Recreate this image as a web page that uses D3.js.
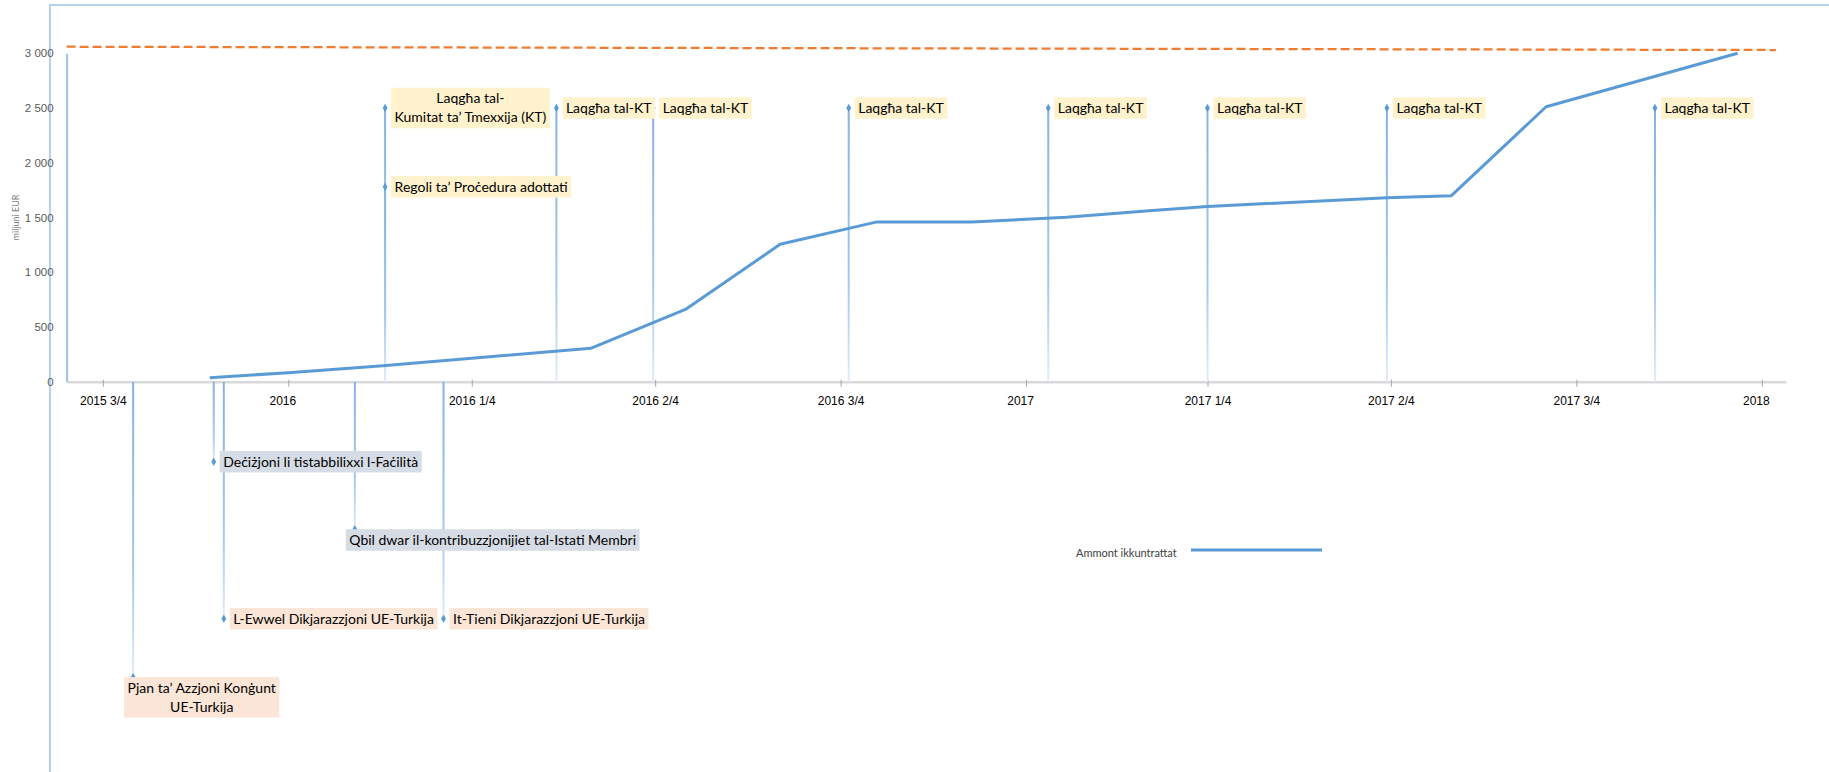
<!DOCTYPE html>
<html>
<head>
<meta charset="utf-8">
<script src="https://cdn.jsdelivr.net/npm/d3@7"></script>
<style>
  body { margin: 0; background: #fff; }
  svg { display: block; font-family: Lato, "Liberation Sans", sans-serif; }
</style>
</head>
<body>
<div id="chart"></div>
<script>
const parse = d3.timeParse("%Y-%m-%d");

// contracted amount, EUR million
const amountDates = ["2015-11-23", "2016-01-01", "2016-02-17", "2016-04-01", "2016-05-30",
                     "2016-07-16", "2016-09-01", "2016-10-19", "2016-12-05", "2017-01-21",
                     "2017-03-03", "2017-04-01", "2017-06-29", "2017-07-31", "2017-09-16", "2017-12-20"];
const amountValues = [37, 82, 146, 214, 305, 660, 1255, 1460, 1460, 1502, 1562, 1601, 1680, 1699, 2512, 3000];

// dashed ceiling line
const capDates = ["2015-09-13", "2018-01-08"];
const capValues = [3060, 3030];

// axis ticks
const tickDates = ["2015-10-01", "2016-01-01", "2016-04-01", "2016-07-01", "2016-10-01",
                   "2017-01-01", "2017-04-01", "2017-07-01", "2017-10-01", "2018-01-01"];
const tickLabels = ["2015 3/4", "2016", "2016 1/4", "2016 2/4", "2016 3/4",
                    "2017", "2017 1/4", "2017 2/4", "2017 3/4", "2018"];
const yTicks = [0, 500, 1000, 1500, 2000, 2500, 3000];

// events on the timeline
const eventDates = ["2016-02-18", "2016-02-18", "2016-05-13", "2016-06-30", "2016-10-05",
                    "2017-01-12", "2017-04-01", "2017-06-29", "2017-11-09",
                    "2015-10-16", "2015-11-25", "2015-11-30", "2016-02-03", "2016-03-18"];
const eventValues = [2500, 1780, 2500, 2500, 2500, 2500, 2500, 2500, 2500,
                     -2698, -731, -2165, -1348, -2165];
const eventLabels = ["Laqgħa tal-\nKumitat ta’ Tmexxija (KT)", "Regoli ta’ Proċedura adottati",
                     "Laqgħa tal-KT", "Laqgħa tal-KT", "Laqgħa tal-KT", "Laqgħa tal-KT",
                     "Laqgħa tal-KT", "Laqgħa tal-KT", "Laqgħa tal-KT",
                     "Pjan ta’ Azzjoni Konġunt\nUE-Turkija", "Deċiżjoni li tistabbilixxi l-Faċilità",
                     "L-Ewwel Dikjarazzjoni UE-Turkija", "Qbil dwar il-kontribuzzjonijiet tal-Istati Membri",
                     "It-Tieni Dikjarazzjoni UE-Turkija"];
const eventGroups = ["kt", "kt", "kt", "kt", "kt", "kt", "kt", "kt", "kt",
                     "euTr", "facility", "euTr", "facility", "euTr"];
const eventPlacement = ["right", "right", "right", "right", "right", "right", "right", "right", "right",
                        "below", "right", "right", "below", "right"];

const w = 1829, h = 772;

const x = d3.scaleTime()
    .domain([parse("2015-09-13"), parse("2018-01-13")])
    .range([66.6, 1786]);

const y = d3.scaleLinear()
    .domain([0, 3000])
    .range([381.7, 53.3]);

const groupColor = d3.scaleOrdinal()
    .domain(["kt", "euTr", "facility"])
    .range(["#fff2cc", "#fbe5d6", "#d6dce5"]);

const svg = d3.select("#chart")
    .append("svg")
    .attr("width", w)
    .attr("height", h);

const defs = svg.append("defs");
const grad = defs.append("linearGradient")
    .attr("id", "stem")
    .attr("x1", 0).attr("y1", 0).attr("x2", 0).attr("y2", 1);
grad.append("stop").attr("offset", "0%").attr("stop-color", "#85b3e2");
grad.append("stop").attr("offset", "65%").attr("stop-color", "#a5c8ed");
grad.append("stop").attr("offset", "100%").attr("stop-color", "#e2edf9");

//outer frame
svg.append("path")
    .attr("d", `M50,${h} V5 H${w}`)
    .attr("fill", "none")
    .attr("stroke", "#9dc3e6")
    .attr("stroke-width", 1.5);

//x axis
const xAxis = d3.axisBottom(x)
    .tickValues(tickDates.map(parse))
    .tickFormat((d, i) => tickLabels[i])
    .tickSizeOuter(0)
    .tickSizeInner(5)
    .tickPadding(10);

const gx = svg.append("g")
    .attr("transform", `translate(0, ${y(0)})`)
    .call(xAxis);

gx.select(".domain").attr("stroke", "#d9d9d9").attr("stroke-width", 2.5);
gx.selectAll(".tick line").attr("stroke", "#a6a6a6").attr("y1", -2);
gx.selectAll(".tick text")
    .attr("font-size", "12px")
    .attr("fill", "#000")
    .attr("dx", (d, i) => tickLabels[i].length === 4 ? -6 : 0);

//y axis
const yAxis = d3.axisLeft(y)
    .tickValues(yTicks)
    .tickSize(0)
    .tickPadding(13)
    .tickFormat(d => d3.format(",")(d).replace(",", " "));

const gy = svg.append("g")
    .attr("transform", `translate(${x.range()[0]}, 0)`)
    .call(yAxis);

gy.select(".domain").attr("stroke", "#9dc3e6").attr("stroke-width", 2);
gy.selectAll(".tick text")
    .attr("font-size", "11.5px")
    .attr("fill", "#595959");

svg.append("text")
    .attr("transform", `translate(15, ${y(1500)}) rotate(-90)`)
    .attr("text-anchor", "middle")
    .attr("dominant-baseline", "central")
    .attr("font-size", "9px")
    .attr("fill", "#7f7f7f")
    .text("miljuni EUR");

//events
const events = eventDates.map((d, i) => ({
    date: parse(d),
    value: eventValues[i],
    label: eventLabels[i],
    group: eventGroups[i],
    place: eventPlacement[i]
}));

svg.append("g")
    .selectAll("rect")
    .data(events)
    .enter()
    .append("rect")
    .attr("x", d => x(d.date) - 1)
    .attr("width", 2)
    .attr("y", d => Math.min(y(d.value), y(0)))
    .attr("height", d => Math.abs(y(d.value) - y(0)))
    .attr("fill", "url(#stem)");

//amount line
const amount = amountDates.map((d, i) => ({ date: parse(d), value: amountValues[i] }));
const cap = capDates.map((d, i) => ({ date: parse(d), value: capValues[i] }));

const line = d3.line()
    .x(d => x(d.date))
    .y(d => y(d.value));

svg.append("path")
    .datum(amount)
    .attr("d", line)
    .attr("fill", "none")
    .attr("stroke", "#5b9bd5")
    .attr("stroke-width", 3)
    .attr("stroke-linejoin", "round");

svg.append("path")
    .datum(cap)
    .attr("d", line)
    .attr("fill", "none")
    .attr("stroke", "#ed7d31")
    .attr("stroke-width", 2.25)
    .attr("stroke-dasharray", "9,4");

//markers
svg.append("g")
    .selectAll("path")
    .data(events)
    .enter()
    .append("path")
    .attr("transform", d => `translate(${x(d.date)}, ${y(d.value)})`)
    .attr("d", d3.symbol(d3.symbolDiamond, 20))
    .attr("fill", "#5b9bd5");

//labels
const lh = 19, fs = 14;
const labels = svg.append("g")
    .selectAll("g")
    .data(events)
    .enter()
    .append("g");

labels.each(function(d) {
    const g = d3.select(this);
    const lines = d.label.split("\n");
    const rect = g.append("rect").attr("fill", groupColor(d.group));
    const text = g.append("text")
        .attr("font-size", fs + "px")
        .attr("fill", "#000");
    lines.forEach(t => text.append("tspan").text(t));

    let maxW = 0;
    text.selectAll("tspan").each(function() {
        maxW = Math.max(maxW, this.getComputedTextLength());
    });
    const bw = maxW + 7;
    const bh = lines.length * lh + 2.5;
    const px = x(d.date), py = y(d.value);
    let bx, by;
    if (d.place === "below") {
        bx = px - 9;
        by = py;
    } else {
        bx = px + 6;
        by = py - bh / 2;
    }
    rect.attr("x", bx).attr("y", by).attr("width", bw).attr("height", bh);
    text.selectAll("tspan")
        .attr("x", bx + bw / 2)
        .attr("y", (t, i) => by + 1.25 + lh * i + lh / 2 + fs * 0.35)
        .attr("text-anchor", "middle");
});

//legend
const legend = svg.append("g").attr("transform", "translate(1076, 550)");
legend.append("text")
    .attr("x", 0)
    .attr("y", 2)
    .attr("dominant-baseline", "central")
    .attr("font-size", "11px")
    .attr("fill", "#404040")
    .text("Ammont ikkuntrattat");
legend.append("line")
    .attr("x1", 115).attr("x2", 246)
    .attr("y1", 0).attr("y2", 0)
    .attr("stroke", "#5b9bd5")
    .attr("stroke-width", 3);
</script>
</body>
</html>
